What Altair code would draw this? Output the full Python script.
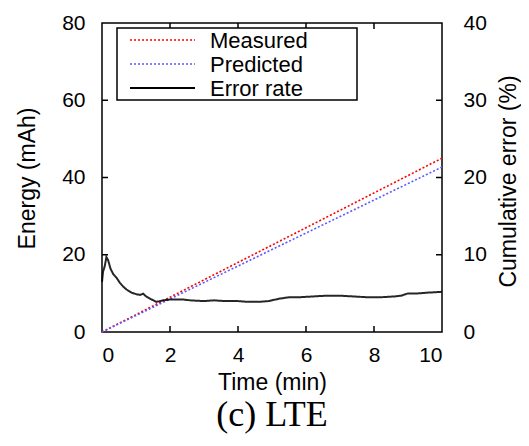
import altair as alt
import pandas as pd

# ---- data ----
series_names = ["Measured", "Predicted", "Error rate"]
series_colors = ["#ff0000", "#5a5aff", "#000000"]

energy_time = [0, 10]
measured_energy = [0, 45.0]
predicted_energy = [0, 42.7]

err_time = [0, 0.03, 0.08, 0.13, 0.18, 0.25, 0.33, 0.43, 0.52, 0.62, 0.72, 0.87, 1.0,
            1.12, 1.21, 1.3, 1.42, 1.6, 1.8, 1.99, 2.2, 2.38, 2.6, 2.77, 3.0, 3.3,
            3.6, 4.0, 4.3, 4.6, 4.9, 5.2, 5.5, 5.8, 6.2, 6.6, 7.0, 7.4, 7.8, 8.2,
            8.6, 8.8, 9.0, 9.3, 9.6, 10]
err_rate = [6.5, 7.8, 8.5, 9.7, 9.3, 8.2, 7.5, 7.0, 6.4, 5.9, 5.5, 5.1, 4.9,
            4.8, 4.95, 4.6, 4.3, 3.9, 4.1, 4.2, 4.2, 4.2, 4.1, 4.05, 4.0, 4.1,
            4.0, 4.0, 3.9, 3.9, 4.0, 4.3, 4.5, 4.5, 4.6, 4.7, 4.7, 4.6, 4.5, 4.5,
            4.6, 4.7, 5.0, 5.0, 5.1, 5.2]

x_ticks = [0, 2, 4, 6, 8, 10]
y_ticks = [0, 20, 40, 60, 80]
y2_ticks = [0, 10, 20, 30, 40]
x_inner = [2, 4, 6, 8]
y_inner = [20, 40, 60]
y2_inner = [10, 20, 30]

W, H = 340, 309
TICK = 6

energy_df = pd.DataFrame(
    {"time": energy_time * 2,
     "energy": measured_energy + predicted_energy,
     "series": ["Measured"] * 2 + ["Predicted"] * 2}
)
err_df = pd.DataFrame({"time": err_time, "error": err_rate, "series": "Error rate"})

color_scale = alt.Scale(domain=series_names, range=series_colors)
dash_scale = alt.Scale(domain=series_names, range=[[2, 2], [2, 2], [1, 0]])

x_scale = alt.Scale(domain=[0, 10], nice=False)
x_axis = alt.Axis(values=x_ticks, title="Time (min)", tickSize=0,
                  labelPadding=12, titlePadding=6, domain=False, grid=False)
y_scale = alt.Scale(domain=[0, 80], nice=False)
y_axis = alt.Axis(values=y_ticks, title="Energy (mAh)", tickSize=0,
                  labelPadding=17, titleAngle=270, titleX=-75, titleY=155,
                  titleAlign="center", titleBaseline="middle",
                  domain=False, grid=False)
y2_scale = alt.Scale(domain=[0, 40], nice=False)
y2_axis = alt.Axis(values=y2_ticks, title="Cumulative error (%)", orient="right",
                   tickSize=0, labelPadding=21, titleAngle=270,
                   titleX=66, titleY=158, titleAlign="center", titleBaseline="middle",
                   domain=False, grid=False)

energy_lines = alt.Chart(energy_df).mark_line(strokeWidth=1.6).encode(
    x=alt.X("time:Q", scale=x_scale, axis=x_axis),
    y=alt.Y("energy:Q", scale=y_scale, axis=y_axis),
    color=alt.Color("series:N", scale=color_scale, legend=None),
    strokeDash=alt.StrokeDash("series:N", scale=dash_scale, legend=None),
)

xt = alt.Chart(pd.DataFrame({"time": x_inner}))
xtick_bottom = xt.mark_rule(color="black", strokeWidth=1.5).encode(
    x=alt.X("time:Q", scale=x_scale, axis=x_axis), y=alt.value(H), y2=alt.value(H - TICK))
xtick_top = xt.mark_rule(color="black", strokeWidth=1.5).encode(
    x=alt.X("time:Q", scale=x_scale, axis=x_axis), y=alt.value(0), y2=alt.value(TICK))
ytick_left = alt.Chart(pd.DataFrame({"energy": y_inner})).mark_rule(
    color="black", strokeWidth=1.5).encode(
    y=alt.Y("energy:Q", scale=y_scale, axis=y_axis), x=alt.value(0), x2=alt.value(TICK))

# ---- manual legend (box, line samples, labels) ----
LX0, LX1, LY0, LY1 = 15, 255, 5, 77
row_y = [17, 41, 65]
legend_parts = [
    alt.Chart(pd.DataFrame({"k": [0]})).mark_rect(
        fill="white", stroke="black", strokeWidth=1.5).encode(
        x=alt.value(LX0), x2=alt.value(LX1), y=alt.value(LY0), y2=alt.value(LY1))
]
dashes = [[2, 2], [2, 2], [1, 0]]
widths = [1.6, 1.6, 2]
for name, col, dash, sw, ry in zip(series_names, series_colors, dashes, widths, row_y):
    d = pd.DataFrame({"label": [name]})
    legend_parts.append(
        alt.Chart(d).mark_rule(color=col, strokeDash=dash, strokeWidth=sw).encode(
            x=alt.value(28), x2=alt.value(93), y=alt.value(ry)))
    legend_parts.append(
        alt.Chart(d).mark_text(align="left", baseline="middle", font="Liberation Sans",
                               fontSize=22, color="black").encode(
            text="label:N", x=alt.value(108), y=alt.value(ry + 1)))

left = alt.layer(energy_lines, xtick_bottom, xtick_top, ytick_left)

err_line = alt.Chart(err_df).mark_line(strokeWidth=2, opacity=0.85).encode(
    x=alt.X("time:Q", scale=x_scale, axis=x_axis),
    y=alt.Y("error:Q", scale=y2_scale, axis=y2_axis),
    color=alt.Color("series:N", scale=color_scale, legend=None),
    strokeDash=alt.StrokeDash("series:N", scale=dash_scale, legend=None),
)
ytick_right = alt.Chart(pd.DataFrame({"error": y2_inner})).mark_rule(
    color="black", strokeWidth=1.5).encode(
    y=alt.Y("error:Q", scale=y2_scale, axis=y2_axis), x=alt.value(W), x2=alt.value(W - TICK))

right = alt.layer(err_line, ytick_right, *legend_parts)

chart = alt.layer(left, right).resolve_scale(y="independent").properties(
    width=W, height=H,
    title=alt.TitleParams("(c) LTE", orient="bottom", font="Liberation Serif",
                          fontSize=36, fontWeight="normal", color="black", offset=4),
    autosize=alt.AutoSizeParams(type="none"),
    padding={"left": 94, "top": 15, "right": 79, "bottom": 106},
).configure_view(
    stroke="black", strokeWidth=1.5
).configure_axis(
    labelFont="Liberation Sans", labelFontSize=21, labelColor="black",
    titleFont="Liberation Sans", titleFontSize=23, titleColor="black",
    titleFontWeight="normal",
)

chart.save("out.html", embed_options={"renderer": "svg", "actions": False})
